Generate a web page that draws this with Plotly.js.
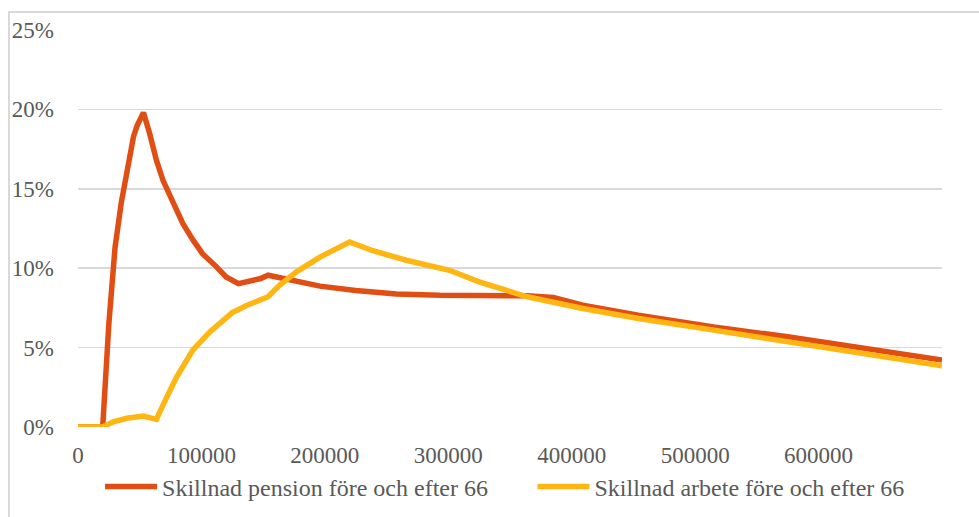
<!DOCTYPE html>
<html>
<head>
<meta charset="utf-8">
<script src="https://cdn.plot.ly/plotly-3.0.1.min.js"></script>
<style>
  html, body { margin: 0; padding: 0; background: #ffffff; }
  #chart { width: 979px; height: 517px; }
  #frame { position: absolute; left: 8px; top: 11px; width: 1000px; height: 600px;
           border-left: 2px solid #d9d9d9; border-top: 2px solid #d9d9d9; pointer-events: none; }
</style>
</head>
<body>
<div id="chart"></div>
<div id="frame"></div>
<script>
// Income (x) and difference shares (y, as fractions)
const pensionX = [0, 20000, 25000, 30000, 35000, 40000, 45000, 48000, 53000, 58000, 63500, 69000, 77000, 85000, 93000, 101000, 112000, 120000, 130000, 148000, 154000, 171000, 196000, 225000, 258000, 293000, 325000, 364000, 385000, 409000, 454000, 515000, 575000, 605000, 650000, 700000];
const pensionY = [0, 0, 0.065, 0.113, 0.141, 0.163, 0.183, 0.190, 0.198, 0.185, 0.168, 0.155, 0.141, 0.128, 0.118, 0.109, 0.101, 0.0945, 0.0903, 0.0935, 0.0956, 0.0925, 0.0887, 0.0860, 0.0838, 0.0830, 0.0828, 0.0826, 0.0816, 0.0767, 0.0704, 0.0630, 0.0568, 0.0530, 0.0480, 0.0421];

const arbeteX = [0, 20000, 28500, 39500, 53000, 63500, 72000, 80000, 93000, 107000, 125000, 137000, 154000, 163000, 177000, 196000, 220000, 239000, 266000, 301000, 325000, 364000, 409000, 454000, 515000, 575000, 605000, 650000, 700000];
const arbeteY = [0, 0, 0.0033, 0.0055, 0.0069, 0.0048, 0.019, 0.0316, 0.0484, 0.060, 0.072, 0.0767, 0.082, 0.089, 0.0977, 0.107, 0.1165, 0.111, 0.105, 0.0987, 0.0914, 0.082, 0.0746, 0.0683, 0.061, 0.0537, 0.0501, 0.0447, 0.0386];

const seriesNames = ["Skillnad pension före och efter 66", "Skillnad arbete före och efter 66"];
const xTicks = [0, 100000, 200000, 300000, 400000, 500000, 600000];
const xTickText = ["0", "100000", "200000", "300000", "400000", "500000", "600000"];
const yTicks = [0, 0.05, 0.10, 0.15, 0.20, 0.25];

const serif = "'Liberation Serif', 'Times New Roman', serif";

const traces = [
  { x: pensionX, y: pensionY, name: seriesNames[0], type: "scatter", mode: "lines",
    line: { color: "#E04E14", width: 5.5 }, hoverinfo: "skip", legend: "legend" },
  { x: arbeteX, y: arbeteY, name: seriesNames[1], type: "scatter", mode: "lines",
    line: { color: "#FFB612", width: 5.5 }, hoverinfo: "skip", legend: "legend2" }
];

const legendBase = {
  orientation: "h", xanchor: "left", yref: "container", y: 0.058, yanchor: "middle",
  itemwidth: 52,
  font: { family: serif, size: 24, color: "#595959" },
  bgcolor: "rgba(0,0,0,0)"
};

const layout = {
  width: 979, height: 517,
  margin: { l: 78, r: 37, t: 30, b: 90 },
  paper_bgcolor: "rgba(0,0,0,0)", plot_bgcolor: "#ffffff",
  font: { family: serif, size: 23, color: "#595959" },
  showlegend: true,
  xaxis: {
    range: [0, 700000], tickvals: xTicks, ticktext: xTickText,
    showgrid: false, zeroline: false, showline: false,
    ticks: "", ticklabelstandoff: 12, fixedrange: true
  },
  yaxis: {
    range: [0, 0.25], tickvals: yTicks, tickformat: ".0%",
    showgrid: true, gridcolor: "#d9d9d9", gridwidth: 1.5,
    zeroline: false, showline: false, ticks: "", ticklabelstandoff: 23, fixedrange: true
  },
  legend: Object.assign({}, legendBase, { x: 0.0255 }),
  legend2: Object.assign({}, legendBase, { x: 0.526 })
};

Plotly.newPlot("chart", traces, layout, { displayModeBar: false, staticPlot: true });
</script>
</body>
</html>
